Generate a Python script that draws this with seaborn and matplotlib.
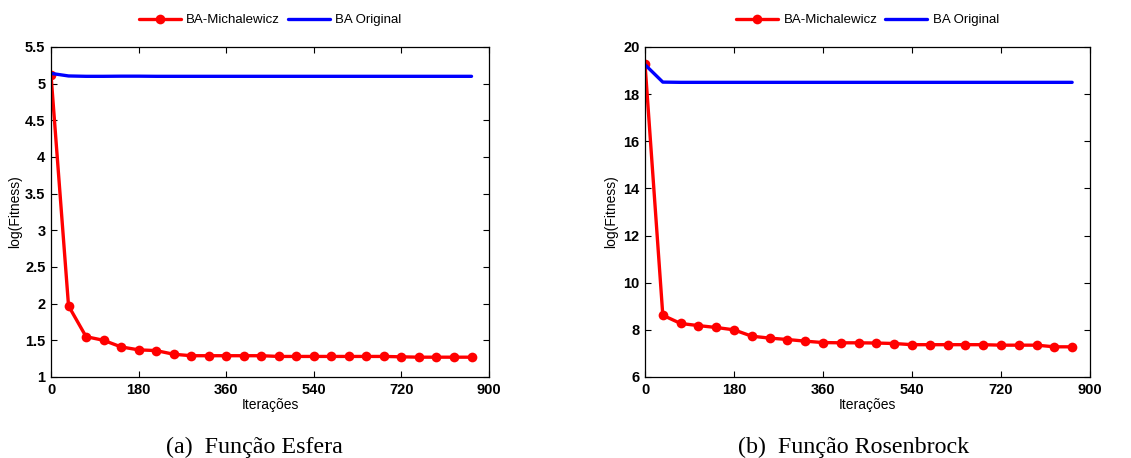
import numpy as np
import pandas as pd
import matplotlib
matplotlib.use("Agg")
import matplotlib.pyplot as plt
import seaborn as sns

# Dados
# ==============================================================================
iteracoes = np.arange(0, 865, 36)

esfera_michalewicz = [5.12, 1.97, 1.55, 1.50, 1.41, 1.37, 1.36, 1.31, 1.29, 1.29,
                      1.29, 1.29, 1.29, 1.28, 1.28, 1.28, 1.28, 1.28, 1.28, 1.28,
                      1.275, 1.27, 1.27, 1.27, 1.27]
esfera_original = [5.14, 5.105, 5.10, 5.10, 5.102, 5.102, 5.10, 5.10, 5.10, 5.10,
                   5.10, 5.10, 5.10, 5.10, 5.10, 5.10, 5.10, 5.10, 5.10, 5.10,
                   5.10, 5.10, 5.10, 5.10, 5.10]

rosen_michalewicz = [19.28, 8.62, 8.27, 8.18, 8.10, 8.00, 7.73, 7.65, 7.59, 7.52,
                     7.46, 7.45, 7.45, 7.44, 7.42, 7.37, 7.37, 7.37, 7.37, 7.37,
                     7.35, 7.35, 7.35, 7.28, 7.28]
rosen_original = [19.25, 18.51, 18.50, 18.50, 18.50, 18.50, 18.50, 18.50, 18.50, 18.50,
                  18.50, 18.50, 18.50, 18.50, 18.50, 18.50, 18.50, 18.50, 18.50, 18.50,
                  18.50, 18.50, 18.50, 18.50, 18.50]

xticks = [0, 180, 360, 540, 720, 900]
yticks_esfera = [1, 1.5, 2, 2.5, 3, 3.5, 4, 4.5, 5, 5.5]
ytick_labels_esfera = ['1', '1.5', '2', '2.5', '3', '3.5', '4', '4.5', '5', '5.5']
yticks_rosen = [6, 8, 10, 12, 14, 16, 18, 20]
legendas = ['BA-Michalewicz', 'BA Original']
legendas_sub = ['(a)  Função Esfera', '(b)  Função Rosenbrock']

# Estilo
# ==============================================================================
sns.set_style('ticks')
plt.rcParams['font.family'] = ['Liberation Sans', 'DejaVu Sans']
plt.rcParams['text.color'] = 'black'
plt.rcParams['axes.labelcolor'] = 'black'
plt.rcParams['xtick.color'] = 'black'
plt.rcParams['ytick.color'] = 'black'

fig = plt.figure(figsize=(11.31, 4.58), dpi=100)
ax_a = fig.add_axes([0.0451, 0.1769, 0.3873, 0.7205])
ax_b = fig.add_axes([0.5703, 0.1769, 0.3934, 0.7205])

paineis = [
    (ax_a, esfera_michalewicz, esfera_original, yticks_esfera, ytick_labels_esfera,
     (1, 5.5), 0.2246, -0.066),
    (ax_b, rosen_michalewicz, rosen_original, yticks_rosen, [str(v) for v in yticks_rosen],
     (6, 20), 0.7551, -0.061),
]

for i, (ax, mich, orig, yt, ytl, ylim, xcap, ylab_x) in enumerate(paineis):
    df = pd.DataFrame({'Iterações': iteracoes, 'mich': mich, 'orig': orig})
    sns.lineplot(data=df, x='Iterações', y='mich', color='#ff0000', marker='o',
                 markersize=7, markeredgewidth=0, linewidth=2.4,
                 label=legendas[0], ax=ax)
    sns.lineplot(data=df, x='Iterações', y='orig', color='#0000ff',
                 linewidth=2.4, label=legendas[1], ax=ax)

    ax.set_xlim(0, 900)
    ax.set_ylim(*ylim)
    ax.set_xticks(xticks)
    ax.set_xticklabels([str(v) for v in xticks], fontsize=10.5, fontweight='bold')
    ax.set_yticks(yt)
    ax.set_yticklabels(ytl, fontsize=10.5, fontweight='bold')
    ax.tick_params(direction='in', length=4, width=0.8, top=True, right=True, pad=4)
    for s in ax.spines.values():
        s.set_linewidth(0.9)
        s.set_color('black')
    ax.set_xlabel('Iterações', fontsize=10, labelpad=1)
    ax.set_ylabel('log(Fitness)', fontsize=10)
    ax.yaxis.set_label_coords(ylab_x, 0.5)

    ax.legend(loc='center', bbox_to_anchor=(0.5, 1.081), ncol=2, frameon=False,
              fontsize=9.5, handlelength=3.2, handletextpad=0.4, columnspacing=0.6)

    fig.text(xcap, 0.024, legendas_sub[i], ha='center', va='center', fontsize=17.3,
             family=['Liberation Serif', 'DejaVu Serif'])

fig.savefig('out.png', dpi=100)
